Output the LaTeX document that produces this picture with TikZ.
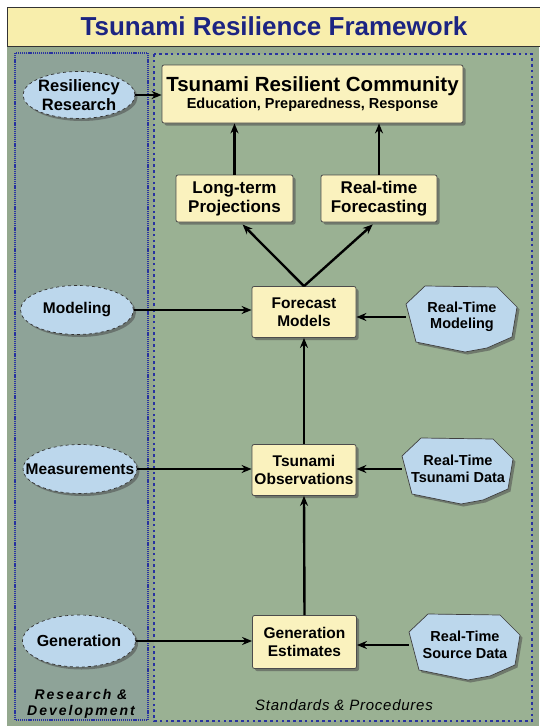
\documentclass[tikz,border=0pt]{standalone}
\usepackage{fontspec}
\setmainfont{Liberation Sans}
\usetikzlibrary{shapes.geometric,shadows,arrows.meta,calc}
\definecolor{bodybg}{RGB}{148,168,142}
\definecolor{leftbg}{RGB}{142,163,152}
\definecolor{rightbg}{RGB}{154,177,147}
\definecolor{boxyel}{RGB}{250,242,190}
\definecolor{titleyel}{RGB}{248,238,172}
\definecolor{ellblue}{RGB}{188,215,236}
\definecolor{dotblue}{RGB}{40,50,160}
\definecolor{titleblue}{RGB}{28,36,130}
\newcommand\rtnode[4]{%
  \begin{scope}[shift={(#2,#3)}]
    \draw[octstyle] (-37,-31) -- (35,-30) -- (55,-10) -- (50,20) -- (25,31) -- (3,35) -- (-46,25) -- (-56,-13) -- cycle;
  \end{scope}
  \node[rtbox] (#1) at (#2,#3) {#4};
}
\begin{document}
\begin{tikzpicture}[x=1pt,y=-1pt,
  shad/.style={drop shadow={shadow xshift=2.5pt,shadow yshift=-2.5pt,opacity=0.55,fill=black!70}},
  ybox/.style={rectangle,rounded corners=2pt,fill=boxyel,draw=black!70,line width=0.8pt,
     minimum width=104pt,minimum height=51pt,align=center,inner sep=2pt,
     font=\fontsize{15.5}{17.5}\selectfont\bfseries,shad},
  ell/.style={ellipse,fill=ellblue,draw=black!80,dashed,line width=0.7pt,minimum width=113pt,
     minimum height=49pt,inner sep=0pt,shad},
  elltext/.style={label={[align=center,font=\fontsize{15.5}{17.5}\selectfont\bfseries]center:#1}},
  octstyle/.style={fill=ellblue,draw=black!75,line width=0.7pt,shad},
  rtbox/.style={rectangle,draw=none,minimum width=112pt,minimum height=40pt,inner sep=0pt,align=center,
     font=\fontsize{14.5}{16.5}\selectfont\bfseries},
  arr/.style={-{Stealth[length=10pt,width=8pt]},line width=2.4pt,black}
]
\useasboundingbox (0,0) rectangle (539,726);
\fill[white] (0,0) rectangle (539,726);
% body background
\fill[bodybg] (7,47) rectangle (539,726);
% title
\draw[fill=titleyel,draw=black!80,line width=1pt] (7.5,7.5) rectangle (545,46);
\node[text=titleblue,font=\fontsize{26}{29}\selectfont\bfseries] (title) at (274,26.5) {Tsunami Resilience Framework};
% panels
\fill[leftbg] (15,53) rectangle (148,720);
\draw[dotblue,line width=2pt,dash pattern=on 1.2pt off 0.9pt] (15,53) rectangle (148,720);
\fill[rightbg] (154,54) rectangle (532,721);
\draw[dotblue,line width=2.6pt,dash pattern=on 2.6pt off 3.2pt] (154,54) rectangle (532,721);
% top box
\node[rectangle,rounded corners=2pt,fill=boxyel,draw=black!70,line width=0.8pt,
  minimum width=301pt,minimum height=58pt,inner sep=2pt,align=center,shad] (trc) at (312.5,94)
  {{\fontsize{20.5}{23}\selectfont\bfseries Tsunami Resilient Community}\\[1pt]
   {\fontsize{14.5}{16}\selectfont\bfseries Education, Preparedness, Response}};
% middle boxes
\node[ybox,minimum width=117pt,minimum height=47pt,font=\fontsize{17}{19}\selectfont\bfseries] (lt) at (234.5,198.5) {Long-term\\Projections};
\node[ybox,minimum width=116pt,minimum height=47pt,font=\fontsize{17}{19}\selectfont\bfseries] (rf) at (379,198.5) {Real-time\\Forecasting};
\node[ybox] (fm) at (304,312) {Forecast\\Models};
\node[ybox] (to) at (304,470) {Tsunami\\Observations};
\node[ybox,minimum height=53pt] (ge) at (304.5,642) {Generation\\Estimates};
% ellipses
\node[ell,minimum width=112pt,minimum height=47pt,label={[align=center,font=\fontsize{16.5}{18.5}\selectfont\bfseries]center:Resiliency\\Research}] (rr) at (79,95) {};
\node[ell,elltext=Modeling] (mod) at (77,310) {};
\node[ell,minimum width=114pt,elltext=Measurements] (mea) at (80,469) {};
\node[ell,minimum height=52pt,label={[font=\fontsize{16}{18}\selectfont\bfseries]center:Generation}] (gen) at (79,641) {};
% octagons
\rtnode{rtm}{462}{317}{Real-Time\\Modeling}
\rtnode{rtd}{458}{469}{Real-Time\\Tsunami Data}
\rtnode{rts}{465}{645}{Real-Time\\Source Data}
% texts
\node[align=center,font=\fontsize{14}{16.5}\selectfont\bfseries\itshape\addfontfeature{LetterSpace=14}] (rd) at (81,704) {Research \&\\Development};
\node[align=center,font=\fontsize{15}{17}\selectfont\itshape\addfontfeature{LetterSpace=5}] (sp) at (344,705) {Standards \& Procedures};
% arrows
\draw[arr] (rr.east) -- (rr.east -| trc.west);
\draw[arr] (lt.north) -- (lt.north |- trc.south);
\draw[arr] (rf.north) -- (rf.north |- trc.south);
\draw[arr,shorten >=3pt] (fm.north) -- ($(lt.south)+(6,0)$);
\draw[arr,shorten >=3pt] (fm.north) -- ($(rf.south)+(-4,0)$);
\draw[arr] (mod.east) -- (mod.east -| fm.west);
\draw[arr] (rtm.west) -- (rtm.west -| fm.east);
\draw[arr] (to.north) -- (fm.south);
\draw[arr] (mea.east) -- (mea.east -| to.west);
\draw[arr] (rtd.west) -- (rtd.west -| to.east);
\draw[arr] (ge.north) -- (to.south);
\draw[arr] (gen.east) -- (gen.east -| ge.west);
\draw[arr] (rts.west) -- (rts.west -| ge.east);
\end{tikzpicture}
\end{document}
